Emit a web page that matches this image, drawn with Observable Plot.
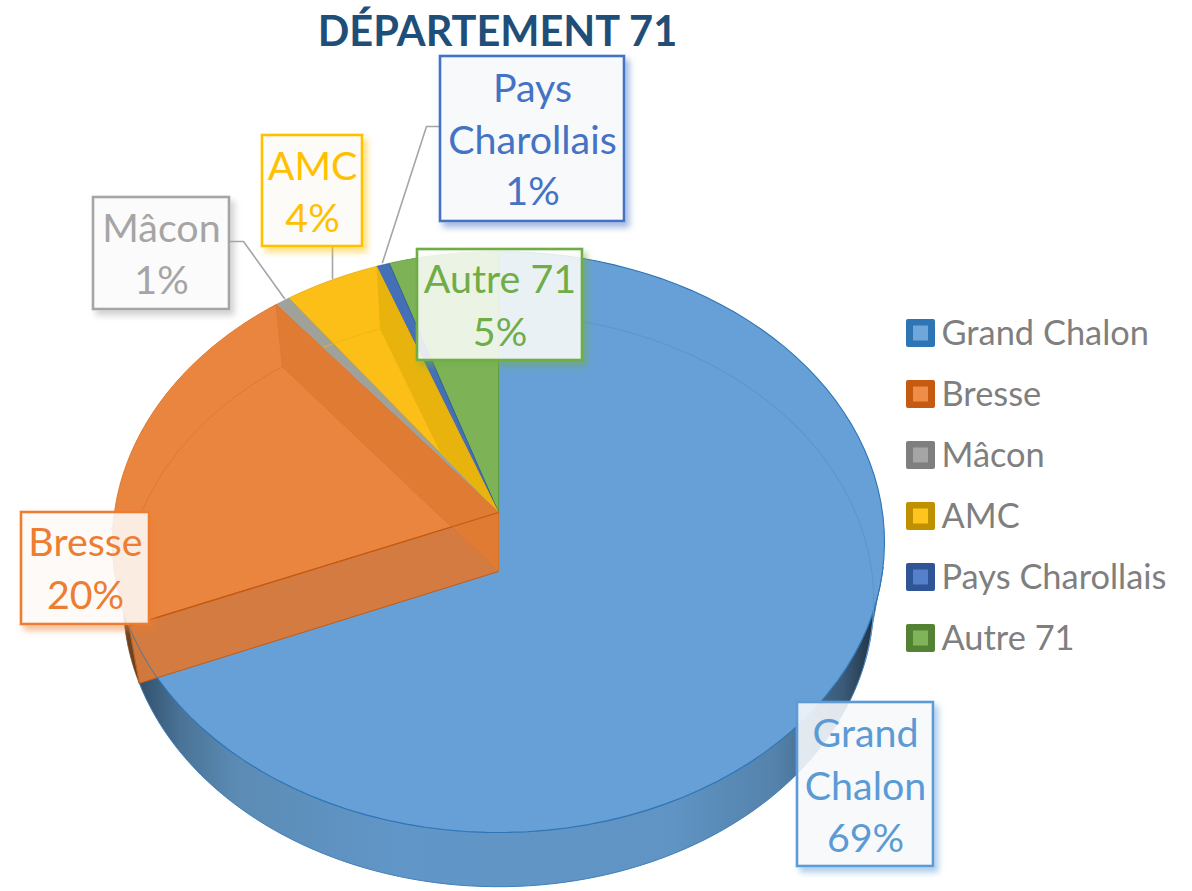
<!DOCTYPE html>
<html lang="fr">
<head>
<meta charset="utf-8">
<script src="https://cdn.jsdelivr.net/npm/d3@7"></script>
<script src="https://cdn.jsdelivr.net/npm/@observablehq/plot@0.6"></script>
<style>html,body{margin:0;padding:0;background:#fff;overflow:hidden}svg{display:block}</style>
</head>
<body>
<div id="chart"></div>
<script>
// ---- data ----
const titleText = "DÉPARTEMENT 71";
const categories = ["Grand Chalon", "Bresse", "Mâcon", "AMC", "Pays Charollais", "Autre 71"];
const shares = [68.8, 20.45, 0.7, 4.4, 0.6, 5.05];
const labelLines = [["Grand", "Chalon"], ["Bresse"], ["Mâcon"], ["AMC"], ["Pays", "Charollais"], ["Autre 71"]];

// ---- styles ----
const topColors = ["#67a0d6", "#ea8540", "#a0a198", "#fbbf17", "#4470b8", "#7db356"];
const edgeColors = ["#2e75b6", "#c55a11", "#8a8a8a", "#c99a06", "#2f5597", "#5f9e3f"];
const labelColors = ["#5b9bd5", "#ed7d31", "#a5a5a5", "#ffc000", "#4472c4", "#70ad47"];
const labelFills = ["#f7f9fc", "#fdfaf7", "#fbfbfb", "#fdfcf8", "#f7f9fc", "#fafcf8"];
const legendBorders = ["#2e75b6", "#c55a11", "#7f7f7f", "#bf9000", "#2f5597", "#548235"];
const legendInner = ["#6fa7da", "#ee8c48", "#a5a5a5", "#ffc51c", "#5580cb", "#7fb558"];
const legendRows = [333, 394, 455, 516, 577, 638];
// label box [left, top, right, bottom]
const labelBoxes = [[797, 702, 933, 866], [21, 512, 149, 624], [93, 197, 229, 309], [262, 135, 362, 246], [440, 56, 624, 221], [417, 249, 582, 360]];
const labelLineY = [[734, 787, 839], [543, 596], [229, 281], [167, 219], [89, 141, 192], [280, 333]];
const leaders = [
  [[229, 241], [243, 241], [284, 298]],
  [[332, 246], [332, 278]],
  [[440, 126], [426, 126], [382, 262]]
];

// ---- pie projection (perspective disc) ----
const cx = 498, cy = 512, persp = 0.1016, Rx = 384, Ry = 287.5, sideDrop = 59, sideSx = 0.972, sideSy = 0.985;
const project = pct => {
  const t = pct / 100 * 2 * Math.PI, u = Math.sin(t), v = -Math.cos(t), w = 1 - persp * v;
  return [cx + Rx * u / w, cy + Ry * v / w];
};
const lower = ([x, y]) => [cx + (x - cx) * sideSx, cy + sideDrop + (y - cy) * sideSy];
const arc = (a, b) => d3.range(0, 91).map(i => project(a + (b - a) * i / 90));
const apex = [cx, cy], apexLow = [cx, cy + sideDrop];
const close = pts => [...pts, pts[0]];
const cuts = d3.cumsum(shares);
const starts = [0, ...cuts];
const cross = (a, b, c, d) => {
  const r = [b[0] - a[0], b[1] - a[1]], s = [d[0] - c[0], d[1] - c[1]];
  const k = ((c[0] - a[0]) * s[1] - (c[1] - a[1]) * s[0]) / (r[0] * s[1] - r[1] * s[0]);
  return [a[0] + r[0] * k, a[1] + r[1] * k];
};
const poly = (pts, o) => Plot.line(pts, {x: d => d[0], y: d => d[1], curve: "linear", strokeLinejoin: "round", ...o});

const slice = i => close([apex, ...arc(starts[i], cuts[i])]);
const outerWall = (a, b) => close([...arc(a, b), ...arc(a, b).map(lower).reverse()]);
const cutWall = p => close([apex, project(p), lower(project(p)), apexLow]);

const marks = [];

// gradient for the outer side of the disc, outer-only shadows for the label boxes
marks.push(() => {
  const defs = d3.create("svg:defs");
  const g = defs.append("linearGradient").attr("id", "sideGrad").attr("gradientUnits", "userSpaceOnUse")
    .attr("x1", 135).attr("x2", 880).attr("y1", 0).attr("y2", 0);
  [[0, "#2f4d68"], [0.06, "#4a7396"], [0.14, "#5c8cb5"], [0.35, "#6196c8"], [0.72, "#5f94c4"], [0.86, "#5482ab"], [0.95, "#3a5a78"], [1, "#1c2a38"]]
    .forEach(([o, c]) => g.append("stop").attr("offset", o).attr("stop-color", c));
  labelColors.forEach((c, i) => {
    const f = defs.append("filter").attr("id", `boxShadow${i}`)
      .attr("x", "-15%").attr("y", "-15%").attr("width", "130%").attr("height", "130%");
    f.append("feGaussianBlur").attr("in", "SourceAlpha").attr("stdDeviation", 3).attr("result", "b");
    f.append("feOffset").attr("in", "b").attr("dx", 4).attr("dy", 5).attr("result", "o");
    f.append("feFlood").attr("flood-color", c).attr("flood-opacity", 0.55).attr("result", "c");
    f.append("feComposite").attr("in", "c").attr("in2", "o").attr("operator", "in").attr("result", "s");
    f.append("feComposite").attr("in", "s").attr("in2", "SourceAlpha").attr("operator", "out").attr("result", "t");
    const m = f.append("feMerge");
    m.append("feMergeNode").attr("in", "t");
    m.append("feMergeNode").attr("in", "SourceGraphic");
  });
  return defs.node();
});

// outer sides
marks.push(poly(outerWall(cuts[0], cuts[0] + 6), {fill: "#6e421c", stroke: "#6e421c", strokeWidth: 0.8}));
marks.push(poly(outerWall(28, cuts[0]), {fill: "url(#sideGrad)", stroke: "#3f7fbb", strokeWidth: 1}));

// top faces
marks.push(poly(slice(0), {fill: topColors[0], stroke: edgeColors[0], strokeWidth: 1.1}));
marks.push(poly(arc(3, 30).map(lower), {stroke: "#5c96cd", strokeWidth: 1.1}));
marks.push(poly(slice(5), {fill: topColors[5], stroke: edgeColors[5], strokeWidth: 1}));
marks.push(poly(slice(4), {fill: topColors[4], stroke: edgeColors[4], strokeWidth: 0.8}));
marks.push(poly(slice(2), {fill: topColors[2], stroke: edgeColors[2], strokeWidth: 0.6}));

// AMC: top face, far cut wall seen through it
marks.push(poly(slice(3), {fill: topColors[3], stroke: "#d9a30a", strokeWidth: 0.7}));
{
  const pEnd = project(cuts[3]), pLow = lower(pEnd);
  const meet = cross(apex, project(cuts[2]), pLow, apexLow);
  marks.push(poly(close([apex, pEnd, pLow, meet]), {fill: "#e7b30c"}));
  marks.push(poly(arc(cuts[3], cuts[2]).map(lower).slice(0, 62), {stroke: "#f2b710", strokeWidth: 1}));
}

// Bresse: top face, front cut wall, far cut wall
marks.push(poly(slice(1), {fill: topColors[1], stroke: "#de7a33", strokeWidth: 1}));
marks.push(poly(arc(cuts[1], cuts[0] + 6).map(lower), {stroke: "#e0772f", strokeWidth: 1}));
marks.push(poly(cutWall(cuts[0]), {fill: "#d77a3b", stroke: edgeColors[1], strokeWidth: 1, fillOpacity: 0.97}));
marks.push(poly(arc(cuts[0] - 4, cuts[0]), {stroke: edgeColors[0], strokeWidth: 1, strokeOpacity: 0.9}));
marks.push(poly(cutWall(cuts[1]), {fill: "#e07b34", stroke: "#d9772f", strokeWidth: 0.7}));
marks.push(poly([apex, project(cuts[0])], {stroke: edgeColors[1], strokeWidth: 1.3}));

// leaders
leaders.forEach(l => marks.push(poly(l, {stroke: "#a5a5a5", strokeWidth: 1.6})));

// label boxes and texts
categories.forEach((name, i) => {
  const [x1, y1, x2, y2] = labelBoxes[i];
  marks.push(Plot.rect([labelBoxes[i]], {
    x1: () => x1, y1: () => y1, x2: () => x2, y2: () => y2,
    fill: labelFills[i], fillOpacity: 0.88, stroke: labelColors[i], strokeWidth: 2.6,
    imageFilter: `url(#boxShadow${i})`
  }));
  const lines = [...labelLines[i], `${Math.round(shares[i])}%`];
  marks.push(Plot.text(lines, {
    x: () => (x1 + x2) / 2, y: (d, j) => labelLineY[i][j], text: d => d,
    fill: labelColors[i], fontSize: 39.4, lineAnchor: "middle", textAnchor: "middle"
  }));
});

// legend
categories.forEach((name, i) => {
  const y = legendRows[i];
  marks.push(Plot.rect([name], {x1: () => 906, x2: () => 935, y1: () => y - 14, y2: () => y + 14, fill: legendBorders[i], rx: 2}));
  marks.push(Plot.rect([name], {x1: () => 913, x2: () => 928, y1: () => y - 7.5, y2: () => y + 7.5, fill: legendInner[i]}));
});
marks.push(Plot.text(categories, {
  x: () => 941, y: (d, i) => legendRows[i], text: d => d,
  fill: "#7f7f7f", fontSize: 34.4, textAnchor: "start", lineAnchor: "middle"
}));

// title
marks.push(Plot.text([titleText], {
  x: () => 497, y: () => 32, text: d => d, fill: "#1f4e79",
  fontSize: 41.5, fontWeight: 700, textAnchor: "middle", lineAnchor: "middle"
}));

const chart = Plot.plot({
  width: 1192, height: 891, margin: 0,
  x: {domain: [0, 1192], range: [0, 1192], axis: null},
  y: {domain: [0, 891], range: [0, 891], axis: null},
  style: {fontFamily: "Lato, 'Open Sans', sans-serif", background: "#fff", overflow: "visible"},
  marks
});
document.getElementById("chart").append(chart);
</script>
</body>
</html>
